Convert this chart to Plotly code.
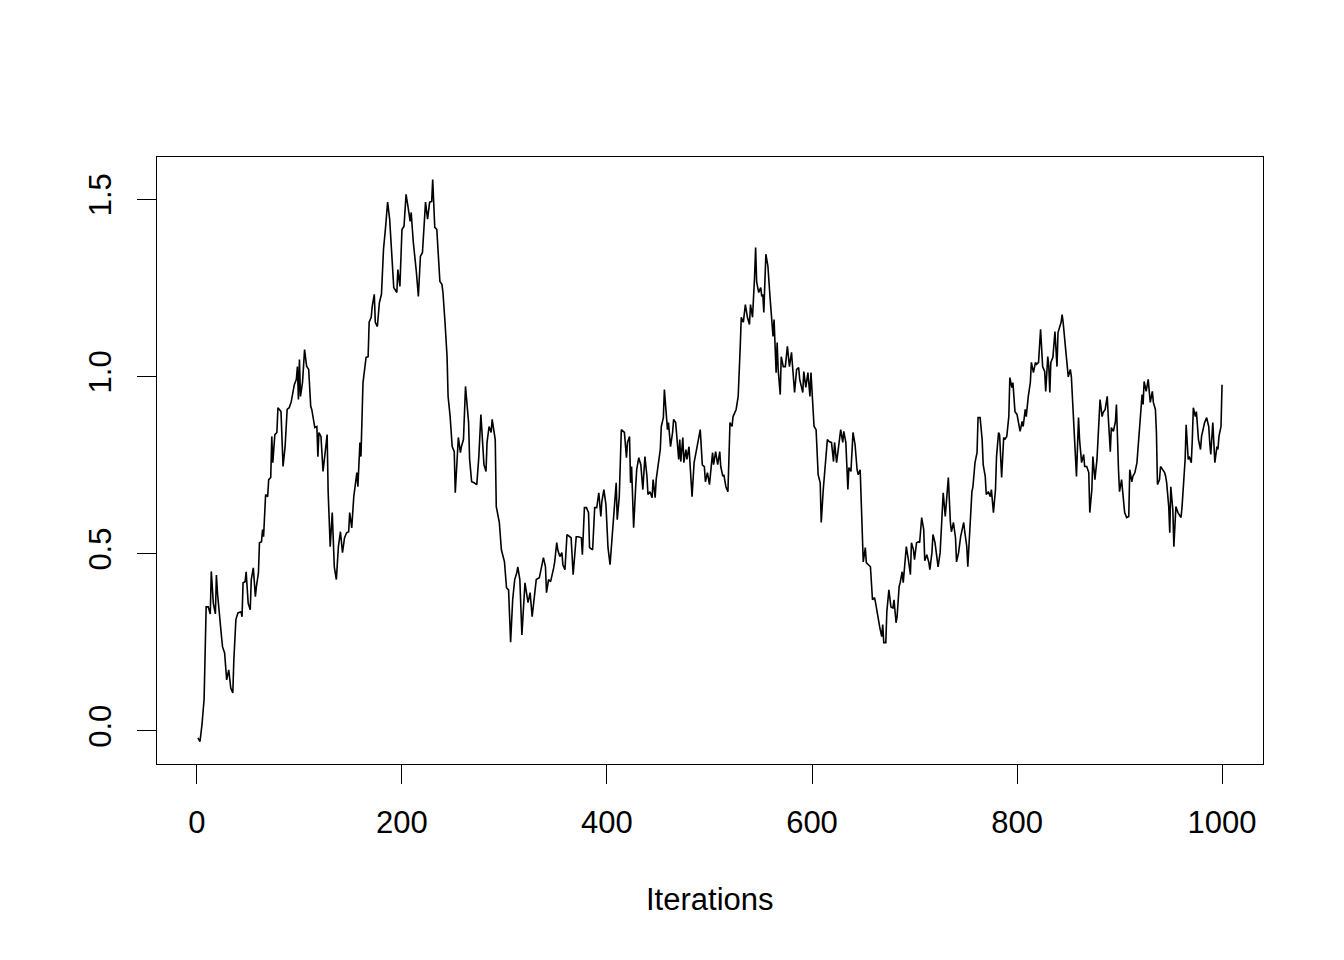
import plotly.graph_objects as go

iterations = [1, 3, 5, 7, 9, 11, 13, 14, 16, 18, 19, 20, 24, 25, 27, 29, 31, 33, 35, 36, 38, 40, 43, 44, 45, 47, 48, 50,
              52, 53, 55, 57, 58, 60, 61, 63, 64, 65, 67, 69, 70, 72, 73, 74, 76, 78, 79, 82, 84, 86, 88, 90, 92, 95,
              97, 98, 99,
              100, 101, 103, 105, 107, 109, 111, 112, 115, 117, 118, 119, 121, 123, 127, 128, 130, 132, 134, 136, 138,
              140, 142, 144, 146, 148, 149, 151, 153, 156, 157, 159, 160, 162, 165, 167, 168, 170, 171, 173, 174, 176,
              178, 180, 182, 184, 186, 188, 190, 192, 195, 196, 198, 200, 202, 204,
              206, 208, 209, 211, 214, 216, 218, 220, 223, 225, 227, 229, 230, 232, 234, 237, 239, 240, 242, 244, 245,
              247, 249, 251, 252, 254, 255, 257, 258, 260, 262, 265, 266, 268, 270, 273, 275, 277, 279, 280, 282, 283,
              285, 287, 288, 291, 292, 295, 297, 299,
              300, 302, 304, 306, 308, 310, 312, 313, 315, 317, 318, 320, 323, 325, 327, 329, 331, 334, 336, 338, 340,
              341, 343, 345, 348, 349, 351, 352, 354, 356, 357, 359, 361, 363, 365, 367, 369, 370, 372, 375, 376, 378,
              380, 382, 383, 386, 388, 390, 392, 394, 395, 397, 399, 401, 403, 405, 407, 409,
              410, 412, 414, 417, 419, 420, 422, 423, 424, 426, 428, 429, 431, 433, 435, 437, 439, 440, 442, 444, 445,
              447, 448, 450, 452, 453, 455, 456, 458, 459, 460, 462, 464, 465, 467, 470, 471, 472, 474, 475, 477, 478,
              480, 481, 483, 485, 487, 489, 491, 493, 495, 496, 498, 500, 501, 503, 504, 506, 508, 510, 511,
              513, 514, 516, 518, 519, 520, 522, 523, 526, 528, 530, 531, 533, 535, 537, 539, 540, 542, 544, 545, 546,
              548, 550, 551, 552, 553, 555, 557, 559, 561, 562, 563, 565, 566, 567, 569, 570, 572, 574, 576, 578, 580,
              582, 583, 585, 587, 588, 591, 592, 594, 596, 598, 599, 601, 602, 604, 605, 606, 608,
              609, 611, 613, 615, 617, 619, 621, 622, 624, 626, 628, 630, 631, 633, 635, 636, 638, 640, 642, 644, 645,
              647, 648, 650, 652, 653, 655, 657, 659, 661, 662, 665, 666, 668, 669, 670, 672, 673, 675, 677, 679, 680,
              682, 683, 685, 686, 688, 689, 691, 692, 694, 696, 697, 699, 700, 702, 704, 705, 707, 709,
              710, 712, 714, 715, 717, 718, 720, 722, 723, 725, 727, 728, 730, 731, 733, 735, 736, 738, 740, 741, 743,
              745, 748, 749, 751, 752, 754, 756, 757, 759, 761, 762, 764, 766, 767, 769, 770, 772, 774, 775, 777, 779,
              780, 782, 783, 785, 787, 788, 790, 792, 793, 795, 796, 798, 800, 801, 803, 805, 806, 808, 809, 811, 813,
              814, 816, 818,
              819, 821, 822, 823, 825, 827, 828, 830, 831, 832, 833, 835, 837, 839, 840, 843, 844, 845, 847, 849, 850,
              852, 853, 855, 857, 858, 860, 861, 863, 865, 866, 868, 870, 871, 873, 874, 876, 878, 879, 881, 883, 884,
              886, 888, 889, 891, 892, 894, 896, 897, 899, 900, 902, 904, 905, 907, 909, 910, 912, 913, 915, 917, 918,
              920,
              922, 923, 924, 926, 928, 929, 930, 932, 933, 935, 936, 937, 939, 940, 942, 944, 945, 946, 948, 949, 950,
              952, 953, 954, 955, 957, 960, 961, 963, 964, 965, 967, 968, 970, 971, 972, 974, 975, 977, 979, 980, 982,
              983, 985, 987, 988, 989, 991, 992, 993, 995, 996, 997, 999, 1000]

trace_values = [-0.02, -0.03, 0.02, 0.09, 0.35, 0.35, 0.33, 0.45, 0.36, 0.33, 0.44, 0.39, 0.265, 0.237, 0.22, 0.144,
                0.172, 0.121, 0.107, 0.20, 0.314, 0.333, 0.336, 0.322, 0.418, 0.421, 0.449, 0.36,
                0.342, 0.427, 0.46, 0.379, 0.407, 0.446, 0.531, 0.534, 0.568, 0.548, 0.667, 0.661, 0.709, 0.715, 0.831,
                0.757, 0.836, 0.842, 0.912, 0.901, 0.746, 0.802, 0.907, 0.912, 0.929, 0.977,
                0.992, 1.028, 0.935,
                1.048, 0.944, 0.983, 1.076, 1.029, 1.02, 0.916, 0.907, 0.856, 0.859, 0.774, 0.842, 0.831, 0.732, 0.836,
                0.675, 0.52, 0.616, 0.463, 0.427, 0.52,
                0.562, 0.503, 0.545, 0.559, 0.562, 0.616, 0.573, 0.661, 0.729, 0.689, 0.814, 0.774, 0.983, 1.054, 1.056,
                1.153, 1.167, 1.198, 1.232, 1.153, 1.141,
                1.209, 1.232, 1.359, 1.421, 1.492, 1.444, 1.339, 1.251, 1.237, 1.302, 1.254, 1.415, 1.424, 1.514,
                1.477, 1.438, 1.463, 1.381, 1.297, 1.226, 1.339, 1.350, 1.492, 1.444, 1.492, 1.494, 1.556, 1.421, 1.415,
                1.268, 1.260, 1.237, 1.153, 1.056, 0.944,
                0.887, 0.802, 0.788, 0.672, 0.774, 0.828, 0.785, 0.802, 0.822, 0.972, 0.870, 0.766, 0.703, 0.701, 0.695,
                0.774, 0.893, 0.780, 0.751, 0.732, 0.814,
                0.859, 0.842, 0.879, 0.822, 0.633, 0.588, 0.511, 0.483,
                0.477, 0.404, 0.398, 0.25, 0.37, 0.427, 0.446, 0.463, 0.427, 0.271, 0.314, 0.418, 0.362, 0.39, 0.322,
                0.379, 0.427, 0.432, 0.463, 0.489, 0.463,
                0.39, 0.427, 0.421, 0.46, 0.477, 0.531, 0.511, 0.492, 0.503, 0.469, 0.455, 0.554, 0.548, 0.545, 0.441,
                0.52, 0.548, 0.548, 0.545, 0.497, 0.63,
                0.63, 0.616, 0.517, 0.511, 0.63, 0.63, 0.672, 0.605, 0.647, 0.681, 0.638, 0.517, 0.469, 0.54, 0.616, 0.70,
                0.596, 0.661, 0.850, 0.842, 0.771, 0.814, 0.831, 0.70, 0.746, 0.573, 0.689, 0.737, 0.771, 0.751, 0.681,
                0.774, 0.718, 0.667, 0.675, 0.658, 0.709,
                0.658, 0.709, 0.751, 0.794, 0.859, 0.884, 0.963, 0.870, 0.850, 0.870, 0.802, 0.842, 0.879, 0.87, 0.766,
                0.822, 0.760, 0.828, 0.757, 0.794, 0.766,
                0.802, 0.751, 0.661, 0.757, 0.788, 0.822, 0.850, 0.751, 0.746, 0.703, 0.729, 0.695, 0.732, 0.785, 0.751,
                0.788, 0.751, 0.788, 0.746,
                0.718, 0.723, 0.689, 0.675, 0.757, 0.870, 0.859, 0.887, 0.907, 0.944, 1.085, 1.167, 1.153, 1.203, 1.167,
                1.147, 1.203, 1.167, 1.282, 1.364, 1.268,
                1.237, 1.251, 1.226, 1.232, 1.181, 1.345, 1.311, 1.226, 1.161, 1.113, 1.161, 1.011, 1.096, 1.020, 0.949,
                1.056, 1.028, 1.028, 1.085, 1.028, 1.068,
                1.0, 0.955, 1.02, 1.025, 0.992, 0.955, 1.014, 0.969, 1.011, 0.944, 1.011, 0.898, 0.859, 0.850, 0.774,
                0.723, 0.70,
                0.588, 0.681, 0.760, 0.822, 0.816, 0.814, 0.760, 0.814, 0.757, 0.799, 0.850, 0.814, 0.845, 0.814, 0.681,
                0.743, 0.732, 0.842, 0.808, 0.737, 0.723,
                0.737, 0.633, 0.477, 0.517, 0.475, 0.469, 0.463, 0.37, 0.376, 0.362, 0.305, 0.294, 0.266, 0.30, 0.249,
                0.249, 0.336, 0.398, 0.35, 0.347, 0.37,
                0.305, 0.322, 0.407, 0.418, 0.449, 0.418, 0.477, 0.52, 0.483, 0.441, 0.531, 0.511, 0.483, 0.531, 0.534,
                0.531, 0.602, 0.568,
                0.48, 0.497, 0.475, 0.455, 0.503, 0.554, 0.531, 0.483, 0.463, 0.503, 0.596, 0.672, 0.605, 0.644, 0.715,
                0.588, 0.562, 0.588, 0.545, 0.477, 0.503,
                0.548, 0.588, 0.562, 0.52, 0.463, 0.576, 0.675, 0.689, 0.757, 0.785, 0.884, 0.884, 0.822, 0.751, 0.718,
                0.667, 0.675, 0.661, 0.681, 0.616, 0.681,
                0.774, 0.842, 0.836, 0.715, 0.828, 0.822, 0.831, 0.887, 0.997, 0.969, 0.983, 0.901, 0.893, 0.879, 0.845,
                0.873, 0.859, 0.907, 0.887, 0.944, 0.983,
                1.040, 1.011, 1.040,
                1.034, 1.04, 1.105, 1.133, 1.028, 1.014, 0.958, 1.056, 1.028, 0.955, 1.04, 1.054, 1.127, 1.028, 1.124,
                1.153, 1.175, 1.153, 1.090, 1.028, 0.999,
                1.02, 1.0, 0.887, 0.774, 0.718, 0.884, 0.822, 0.757, 0.780, 0.746, 0.746, 0.729, 0.616, 0.681, 0.774,
                0.709, 0.766, 0.822, 0.935, 0.887, 0.898,
                0.907, 0.944, 0.887, 0.788, 0.856, 0.845, 0.873, 0.921, 0.737, 0.675, 0.709, 0.653, 0.616, 0.602, 0.605,
                0.737, 0.703, 0.718, 0.729, 0.757, 0.794,
                0.887,
                0.949, 0.921, 0.986, 0.958, 0.992, 0.958, 0.927, 0.958, 0.927, 0.907, 0.842, 0.695, 0.709, 0.746, 0.737,
                0.729, 0.718, 0.70, 0.633, 0.559, 0.689,
                0.624, 0.52, 0.576, 0.633, 0.616, 0.602, 0.633, 0.718, 0.766, 0.864, 0.766, 0.774, 0.757, 0.822, 0.912,
                0.887, 0.901, 0.822, 0.794, 0.831, 0.859,
                0.870, 0.884, 0.859, 0.814, 0.780, 0.870, 0.808, 0.757, 0.802, 0.794, 0.831, 0.859, 0.977]

x_tick_values = [0, 200, 400, 600, 800, 1000]
y_tick_values = [0.0, 0.5, 1.0, 1.5]
y_tick_labels = ["0.0", "0.5", "1.0", "1.5"]
x_title = "Iterations"

assert len(iterations) == len(trace_values)

FONT = "Liberation Sans, Arial, Helvetica, sans-serif"

# R-style axis extension (4% on each side)
xmin, xmax = 1, 1000
ymin, ymax = min(trace_values), max(trace_values)
xpad = 0.04 * (xmax - xmin)
ypad = 0.04 * (ymax - ymin)

fig = go.Figure()
fig.add_trace(go.Scatter(
    x=iterations, y=trace_values, mode="lines",
    line=dict(color="black", width=1.6),
    hoverinfo="x+y", showlegend=False,
))

axis_common = dict(
    showline=True, mirror=True, linecolor="black", linewidth=1,
    showgrid=False, zeroline=False,
    ticks="outside", ticklen=19, tickwidth=1, tickcolor="black",
    tickfont=dict(family=FONT, size=31, color="black"),
)

fig.update_xaxes(
    range=[xmin - xpad, xmax + xpad],
    tickmode="array", tickvals=x_tick_values,
    ticklabelstandoff=12,
    **axis_common,
)
fig.update_yaxes(
    range=[ymin - ypad, ymax + ypad],
    tickmode="array", tickvals=y_tick_values, ticktext=y_tick_labels,
    tickangle=-90,
    ticklabelstandoff=14,
    **axis_common,
)

fig.add_annotation(
    text=x_title, xref="paper", yref="paper", x=0.5, y=0,
    yshift=-135, xanchor="center", yanchor="middle", showarrow=False,
    font=dict(family=FONT, size=31, color="black"),
)

# page body adds an 8px offset; compensate so the plot box sits at 157..1263 x 157..764
fig.update_layout(
    width=1344, height=960, autosize=False,
    margin=dict(l=149, r=89, t=149, b=204),
    paper_bgcolor="white", plot_bgcolor="white",
)

fig.write_html("out.html")
